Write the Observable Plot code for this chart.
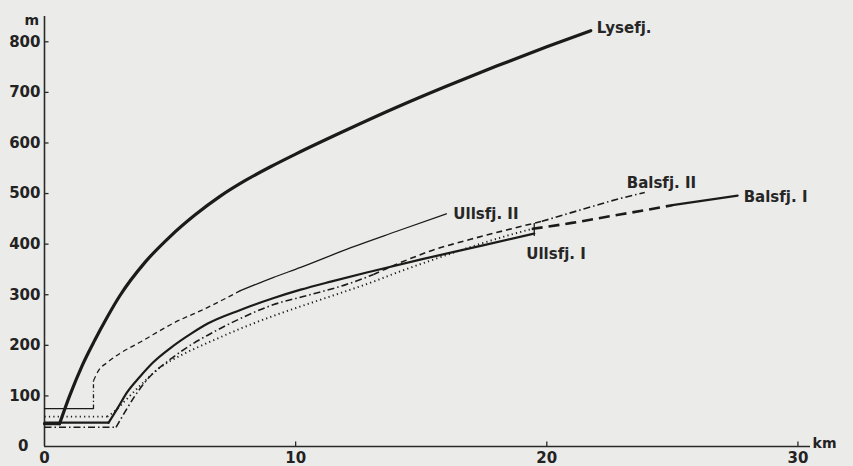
<!DOCTYPE html>
<html><head><meta charset="utf-8">
<script src="https://cdn.jsdelivr.net/npm/d3@7"></script>
<script src="https://cdn.jsdelivr.net/npm/@observablehq/plot@0.6"></script>
<style>
html,body{margin:0;padding:0;background:#ebebe9;}
#chart{width:853px;height:466px;overflow:hidden;}
svg{display:block;}
</style></head><body><div id="chart"></div>
<script>
// ---- data (km along profile, height in m) ----
const xTicks = [0, 10, 20, 30];
const yTicks = [100, 200, 300, 400, 500, 600, 700, 800];
const seriesNames = ["Lysefj.", "Ullsfj. II", "Ullsfj. I", "Balsfj. II", "Balsfj. I"];

const lysefjKm = [0, 0.6, 1.0, 1.5, 2.0, 2.5, 3.0, 4.0, 5.0, 6.0, 7.0, 8.0, 9.0, 10.0, 12.0, 14.0, 16.0, 18.0, 20.0, 21.75];
const lysefjM  = [45, 45, 100, 160, 210, 256, 298, 364, 415, 458, 495, 526, 553, 578, 625, 670, 712, 752, 790, 822];

const ullsfj2Km = [0, 1.95, 1.95, 2.15, 2.5, 3.0, 3.8, 5.1, 6.5, 7.8, 9.1, 10.2, 12.2, 14.0, 16.0];
const ullsfj2M  = [75, 75, 130, 150, 166, 184, 206, 243, 275, 308, 334, 354, 393, 425, 460];

const ullsfj1Km = [0, 2.55, 2.9, 3.3, 3.8, 4.3, 5.0, 5.9, 6.5, 7.8, 9.1, 10.2, 11.4, 13.0, 15.0, 17.5, 19.5];
const ullsfj1M  = [47, 47, 75, 108, 138, 165, 194, 225, 243, 270, 293, 310, 326, 346, 370, 398, 421];

const balsfj2Km = [0, 2.85, 3.2, 3.6, 4.1, 5.0, 5.9, 6.5, 7.8, 9.1, 10.5, 12.0, 13.1, 14.2, 15.4, 17.0, 18.4, 19.8, 21.5, 22.9, 23.9];
const balsfj2M  = [38, 38, 68, 100, 133, 172, 203, 220, 253, 280, 299, 320, 340, 364, 387, 410, 428, 445, 470, 490, 502];

const balsfj1Km = [0, 2.5, 2.8, 3.2, 3.8, 4.6, 5.5, 6.5, 7.8, 9.1, 10.5, 11.4, 13.1, 14.1, 15.4, 17.0, 18.3, 19.4, 21.0, 22.5, 24.0, 25.0, 27.6];
const balsfj1M  = [59, 59, 70, 90, 120, 156, 182, 205, 233, 258, 282, 297, 326, 345, 368, 395, 415, 430, 442, 455, 468, 477, 496];

// ---- styles ----
const INK = "#1b1b1b";
const strokeStyles = {
  thick:    {w: 3.2, dash: null},
  medium:   {w: 2.2, dash: null},
  thin:     {w: 1.3, dash: null},
  dashThin: {w: 1.3, dash: "5,3.5"},
  dashDotThin: {w: 1.3, dash: "4,2.5,1.2,2.5"},
  dotted:   {w: 1.9, dash: "1.2,3.2"},
  dashDot:  {w: 1.6, dash: "7,3,1.5,3"},
  dashed:   {w: 1.6, dash: "6,4"},
  longDash: {w: 2.6, dash: "11,6"},
  solidBI:  {w: 2.2, dash: null}
};
// segments by point index: [from, to, style]
const segmentSpec = {
  "Lysefj.":    [[0, 1, "thick"], [1, -1, "thick"]],
  "Ullsfj. II": [[0, 1, "thin"], [1, 2, "dashDotThin"], [2, 9, "dashThin"], [9, -1, "thin"]],
  "Ullsfj. I":  [[0, 1, "medium"], [1, -1, "medium"]],
  "Balsfj. II": [[0, 1, "dashDot"], [1, 12, "dashDot"], [12, 17, "dashed"], [17, -1, "dashDot"]],
  "Balsfj. I":  [[0, 1, "dotted"], [1, 17, "dotted"], [17, 21, "longDash"], [21, -1, "solidBI"]]
};
const labelOffsets = {
  "Lysefj.":    {dx: 6,   dy: -2},
  "Ullsfj. II": {dx: 7,   dy: 0},
  "Ullsfj. I":  {dx: -8,  dy: 21},
  "Balsfj. II": {dx: -18, dy: -9},
  "Balsfj. I":  {dx: 6,   dy: 2}
};

const seriesData = [
  {name: seriesNames[0], km: lysefjKm, m: lysefjM},
  {name: seriesNames[1], km: ullsfj2Km, m: ullsfj2M},
  {name: seriesNames[2], km: ullsfj1Km, m: ullsfj1M},
  {name: seriesNames[3], km: balsfj2Km, m: balsfj2M},
  {name: seriesNames[4], km: balsfj1Km, m: balsfj1M}
];

const lineMarks = [];
for (const s of seriesData) {
  const pts = s.km.map((k, i) => ({x: k, y: s.m[i]}));
  for (const [from, to, st] of segmentSpec[s.name]) {
    const end = to < 0 ? pts.length - 1 : to;
    const seg = pts.slice(from, end + 1);
    const style = strokeStyles[st];
    lineMarks.push(Plot.line(seg, {
      x: "x", y: "y", stroke: INK,
      strokeWidth: style.w,
      strokeDasharray: style.dash || undefined,
      strokeLinecap: style.dash ? "butt" : "round",
      strokeLinejoin: "round",
      curve: seg.length > 2 ? "monotone-x" : "linear"
    }));
  }
}

const ends = seriesData.map(s => ({name: s.name, x: s.km[s.km.length - 1], y: s.m[s.m.length - 1]}));
const labelMarks = ends.map(e => Plot.text([e], {
  x: "x", y: "y", text: "name", textAnchor: "start",
  dx: labelOffsets[e.name].dx, dy: labelOffsets[e.name].dy,
  fontSize: 15, fontWeight: "bold", fill: "#262626",
  letterSpacing: "2px"
}));
const ull1End = ends.find(e => e.name === "Ullsfj. I");

const chart = Plot.plot({
  width: 853, height: 466,
  marginLeft: 44, marginRight: 43, marginTop: 16, marginBottom: 20,
  style: {background: "transparent", fontFamily: "DejaVu Sans", color: "#222"},
  x: {domain: [0, 30.5]},
  y: {domain: [0, 850]},
  marks: [
    // axes lines
    Plot.ruleX([0], {y1: 0, y2: 850, stroke: "#2a2a2a", strokeWidth: 1.6}),
    Plot.ruleY([0], {x1: 0, x2: 30.5, stroke: "#2a2a2a", strokeWidth: 1.6}),
    // inward ticks
    Plot.ruleY(yTicks, {x1: 0, x2: 0.18, stroke: "#2a2a2a", strokeWidth: 1.3}),
    Plot.ruleX(xTicks.filter(d => d > 0), {y1: 0, y2: 9, stroke: "#2a2a2a", strokeWidth: 1.3}),
    Plot.axisX(xTicks, {tickSize: 0, tickPadding: 6, fontSize: 15, fontWeight: "bold", fill: "#222", label: null}),
    Plot.axisY(yTicks, {tickSize: 0, tickPadding: 4, fontSize: 15, fontWeight: "bold", fill: "#222", label: null}),
    Plot.axisY([0], {tickSize: 0, tickPadding: 16, fontSize: 15, fontWeight: "bold", fill: "#222", label: null}),
    Plot.text(["m"], {frameAnchor: "top-left", dx: -20, dy: -1, fontSize: 14, fontWeight: "bold", fill: "#222"}),
    Plot.text(["km"], {frameAnchor: "bottom-right", dx: 26, dy: 1, fontSize: 14, fontWeight: "bold", fill: "#222"}),
    ...lineMarks,
    // end marker of Ullsfj. I
    Plot.ruleX([ull1End], {x: "x", y1: d => d.y - 6, y2: d => d.y + 20, stroke: INK, strokeWidth: 1.3}),
    ...labelMarks
  ]
});
document.getElementById("chart").appendChild(chart);
</script>
</body></html>
